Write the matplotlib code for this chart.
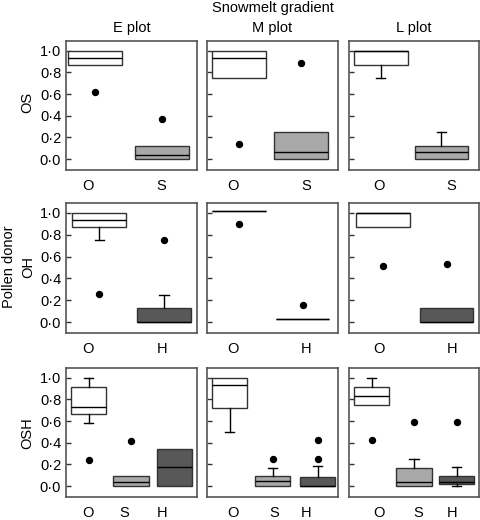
import numpy as np
import matplotlib
matplotlib.use('Agg')
import matplotlib.pyplot as plt

plt.rcParams['font.family'] = ['Liberation Sans', 'DejaVu Sans']
plt.rcParams['font.size'] = 10.5

plots = ['E plot', 'M plot', 'L plot']
rows = ['OS', 'OH', 'OSH']
donors = [['O', 'S'], ['O', 'H'], ['O', 'S', 'H']]

# box summaries per plot and donor: (whislo, q1, median, q3, whishi)
os_stats = [
    [(0.868, 0.868, 0.933, 1.0, 1.0), (0.0, 0.0, 0.04, 0.123, 0.123)],
    [(0.75, 0.75, 0.933, 1.0, 1.0), (0.0, 0.0, 0.065, 0.25, 0.25)],
    [(0.75, 0.868, 1.0, 1.0, 1.0), (0.0, 0.0, 0.065, 0.126, 0.246)],
]
os_fliers = [[[0.62], [0.37]], [[0.14], [0.89]], [[], []]]

oh_stats = [
    [(0.75, 0.868, 0.932, 1.0, 1.0), (0.0, 0.0, 0.0, 0.129, 0.246)],
    [(1.02, 1.02, 1.02, 1.02, 1.02), (0.031, 0.031, 0.031, 0.031, 0.031)],
    [(0.871, 0.871, 1.0, 1.0, 1.0), (0.0, 0.0, 0.0, 0.133, 0.133)],
]
oh_fliers = [[[0.256], [0.75]], [[0.90], [0.154]], [[0.514], [0.53]]]

osh_stats = [
    [(0.582, 0.663, 0.731, 0.912, 1.0), (0.0, 0.0, 0.04, 0.093, 0.093),
     (0.0, 0.0, 0.174, 0.344, 0.344)],
    [(0.501, 0.724, 0.929, 1.0, 1.0), (0.0, 0.0, 0.05, 0.093, 0.167),
     (0.0, 0.0, 0.0, 0.087, 0.183)],
    [(0.746, 0.746, 0.83, 0.919, 1.0), (0.0, 0.0, 0.037, 0.17, 0.253),
     (0.0, 0.016, 0.04, 0.096, 0.174)],
]
osh_fliers = [[[0.245], [0.418], []], [[], [0.253], [0.253, 0.424]],
              [[0.424], [0.591], [0.591]]]

all_stats = [os_stats, oh_stats, osh_stats]
all_fliers = [os_fliers, oh_fliers, osh_fliers]

yticks = [0.0, 0.2, 0.4, 0.6, 0.8, 1.0]
ytick_labels = ['0\u00b70', '0\u00b72', '0\u00b74', '0\u00b76', '0\u00b78', '1\u00b70']

fill = {'O': 'white', 'S': '#a8a8a8', 'H': '#585858'}

# layout (fractions of each panel width)
box_pos = [
    [[0.221, 0.733], [0.245, 0.715], [0.245, 0.71]],
    [[0.253, 0.748], [0.245, 0.73], [0.262, 0.752]],
    [[0.174, 0.496, 0.828], [0.174, 0.50, 0.845], [0.174, 0.50, 0.83]],
]
lab_pos2 = [[0.168, 0.73], [0.20, 0.76], [0.23, 0.79]]
lab_pos3 = [[0.168, 0.443, 0.733], [0.20, 0.51, 0.76], [0.23, 0.53, 0.79]]

W, H = 480, 520
fig = plt.figure(figsize=(4.8, 5.2), dpi=100)
col_x = [(66, 131), (207, 131), (349, 130)]
row_y = [(41, 129), (203, 130), (368, 129)]

for r in range(3):
    for c in range(3):
        x0, w = col_x[c]
        y0, h = row_y[r]
        ax = fig.add_axes([x0 / W, 1 - (y0 + h) / H, w / W, h / H])
        names = donors[r]
        bstats = []
        for k, nm in enumerate(names):
            lo, q1, med, q3, hi = all_stats[r][c][k]
            bstats.append(dict(whislo=lo, q1=q1, med=med, q3=q3, whishi=hi,
                               fliers=all_fliers[r][c][k], label=nm))
        bw = 0.41 if len(names) == 2 else 0.27
        res = ax.bxp(bstats, positions=box_pos[r][c], widths=bw,
                     capwidths=0.07, patch_artist=True, showfliers=True,
                     manage_ticks=False,
                     boxprops=dict(edgecolor='#333333', linewidth=1.0),
                     medianprops=dict(color='black', linewidth=1.0),
                     whiskerprops=dict(color='black', linewidth=1.0, linestyle='-'),
                     capprops=dict(color='black', linewidth=1.0),
                     flierprops=dict(marker='o', markerfacecolor='black',
                                     markeredgecolor='black', markersize=4.3))
        for patch, nm in zip(res['boxes'], names):
            patch.set_facecolor(fill[nm])
        # no cap where the whisker has zero length
        for k, st in enumerate(bstats):
            if st['whislo'] == st['q1']:
                res['caps'][2 * k].set_visible(False)
            if st['whishi'] == st['q3']:
                res['caps'][2 * k + 1].set_visible(False)
        ax.set_xlim(0, 1)
        ax.set_ylim(-0.1, 1.09)
        ax.set_yticks(yticks)
        if c == 0:
            ax.set_yticklabels(ytick_labels)
        else:
            ax.set_yticklabels([])
        ax.set_xticks(lab_pos2[c] if len(names) == 2 else lab_pos3[c])
        ax.set_xticklabels(names)
        ax.tick_params(axis='y', direction='in', length=3.5, width=1.0,
                       color='#333333', pad=3.5, labelsize=10.5)
        ax.tick_params(axis='x', length=0, pad=6.5, labelsize=10.5)
        for sp in ax.spines.values():
            sp.set_color('#555555')
            sp.set_linewidth(1.2)

fig.text(273 / W, 1 - 8 / H, 'Snowmelt gradient', ha='center', va='center')
for c, name in enumerate(plots):
    x0, w = col_x[c]
    fig.text((x0 + w / 2) / W, 1 - 28 / H, name, ha='center', va='center')

fig.text(27 / W, 1 - 102 / H, 'OS', rotation=90, ha='center', va='center')
fig.text(9 / W, 1 - 267 / H, 'Pollen donor', rotation=90, ha='center', va='center')
fig.text(28 / W, 1 - 267 / H, 'OH', rotation=90, ha='center', va='center')
fig.text(27 / W, 1 - 433 / H, 'OSH', rotation=90, ha='center', va='center')

fig.savefig('out.png', dpi=100)
